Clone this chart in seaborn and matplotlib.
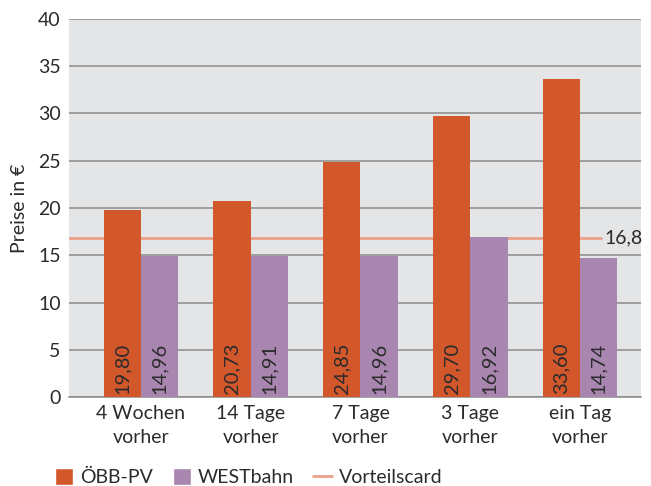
import matplotlib
matplotlib.use("Agg")
import matplotlib.pyplot as plt
import seaborn as sns
import pandas as pd
from matplotlib.patches import Patch
from matplotlib.lines import Line2D

# Daten
kategorien = ["4 Wochen\nvorher", "14 Tage\nvorher", "7 Tage\nvorher", "3 Tage\nvorher", "ein Tag\nvorher"]
oebb_pv = [19.80, 20.73, 24.85, 29.70, 33.60]
westbahn = [14.96, 14.91, 14.96, 16.92, 14.74]
vorteilscard = 16.8
serien = ["ÖBB-PV", "WESTbahn"]

farben = {"ÖBB-PV": "#D2572B", "WESTbahn": "#A986B0"}
linienfarbe = "#EBA08A"
textfarbe = "#2B2B2B"
fs = 14

df = pd.DataFrame({
    "kategorie": kategorien * 2,
    "preis": oebb_pv + westbahn,
    "anbieter": [serien[0]] * 5 + [serien[1]] * 5,
})

sns.set_theme(style="white")
plt.rcParams["font.family"] = ["Lato", "DejaVu Sans"]

fig = plt.figure(figsize=(6.51, 4.86), dpi=100)
ax = fig.add_axes([69 / 651, 1 - 397 / 486, (641 - 69) / 651, (397 - 19) / 486])
ax.set_facecolor("#E4E5E7")

sns.barplot(data=df, x="kategorie", y="preis", hue="anbieter", palette=farben,
            width=0.68, saturation=1, ax=ax, legend=False, zorder=3, linewidth=0)

for bar in ax.patches:
    h = bar.get_height()
    if h == 0:
        continue
    ax.text(bar.get_x() + bar.get_width() / 2, 0.3, f"{h:.2f}".replace(".", ","),
            rotation=90, ha="center", va="bottom", fontsize=fs + 0.5, color=textfarbe, zorder=4)

ax.set_xlim(-0.655, 4.555)
ax.set_ylim(0, 40)
ax.set_yticks(range(0, 41, 5))
ax.grid(axis="y", color="#8A8A8A", linewidth=1.1, zorder=0)
ax.set_axisbelow(True)

# Vorteilscard-Linie
ax.plot([-0.655, 4.19], [vorteilscard, vorteilscard], color=linienfarbe, linewidth=2, zorder=2)
ax.text(4.22, vorteilscard, "16,8", ha="left", va="center", fontsize=fs, color=textfarbe)

for s in ["top", "right", "left"]:
    ax.spines[s].set_visible(False)
ax.spines["bottom"].set_color("#8A8A8A")
ax.spines["bottom"].set_linewidth(1.1)

ax.tick_params(axis="both", length=0, labelsize=fs, colors=textfarbe, pad=6)
for lbl in ax.get_xticklabels():
    lbl.set_linespacing(1.45)
ax.set_xlabel("")
ax.set_ylabel("Preise in €", fontsize=fs, color=textfarbe, labelpad=7)

handles = [
    Patch(facecolor=farben["ÖBB-PV"], label="ÖBB-PV"),
    Patch(facecolor=farben["WESTbahn"], label="WESTbahn"),
    Line2D([0], [0], color=linienfarbe, linewidth=2, label="Vorteilscard"),
]
fig.legend(handles=handles, loc="center left", bbox_to_anchor=(55 / 651, 1 - 477 / 486),
           ncol=3, frameon=False, fontsize=fs, handlelength=0.95, handleheight=0.95,
           columnspacing=1.0, handletextpad=0.35, borderpad=0, borderaxespad=0,
           labelcolor=textfarbe)

fig.savefig("out.png", dpi=100)
